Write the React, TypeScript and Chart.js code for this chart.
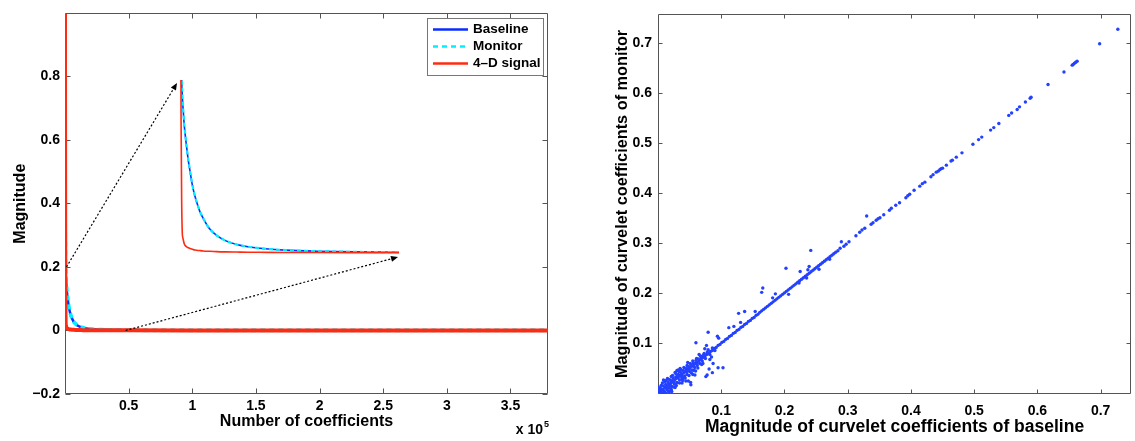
import React, { useEffect, useRef } from 'react';
import { Chart, registerables } from 'chart.js';

Chart.register(...registerables);

const FONT = '"Liberation Sans", Arial, Helvetica, sans-serif';

// ---------------- Left panel: sorted curvelet coefficient magnitudes ----------------
const coefficientIndex = [0, 60, 150, 250, 380, 525, 600, 760, 950, 1140, 1520, 1900, 2280, 2650, 3050, 3400, 3800, 4500, 5300, 6700, 8350, 10500, 12950, 15500, 18250, 24000, 31150, 40000, 50000, 100000, 200000, 300000, 379500];
const baselineMagnitude = [0.95, 0.5, 0.32, 0.25, 0.2, 0.182, 0.1745, 0.163, 0.149, 0.139, 0.122, 0.1067, 0.095, 0.083, 0.073, 0.0658, 0.059, 0.0484, 0.040, 0.0282, 0.0203, 0.014, 0.0099, 0.00727, 0.0055, 0.00337, 0.0021, 0.0013, 0.00086, 0.0003, 0.0001, 0.00003, 0];
const monitorMagnitude = [0.96, 0.51, 0.325, 0.252, 0.202, 0.183, 0.175, 0.164, 0.15, 0.14, 0.123, 0.1075, 0.0955, 0.0835, 0.0735, 0.066, 0.0592, 0.0486, 0.0402, 0.0283, 0.0204, 0.0141, 0.0099, 0.0073, 0.0055, 0.0034, 0.0021, 0.0013, 0.00087, 0.0003, 0.0001, 0.00003, 0];
const signal4DMagnitude = [0.998, 0.6, 0.3, 0.15, 0.06, 0.0225, 0.019, 0.015, 0.011, 0.0089, 0.0072, 0.006, 0.0052, 0.0045, 0.0039, 0.0035, 0.0032, 0.0028, 0.0024, 0.002, 0.0016, 0.0013, 0.0011, 0.0009, 0.0008, 0.0006, 0.0005, 0.0004, 0.0003, 0.0001, 0.00005, 0.00002, 0];
const seriesLabels = ['Baseline', 'Monitor', '4\u2013D signal'];
const seriesColors = ['#0a2cff', '#00f0ff', '#ff2a12'];

const leftXTicks = [50000, 100000, 150000, 200000, 250000, 300000, 350000];
const leftXTickLabels = ['0.5', '1', '1.5', '2', '2.5', '3', '3.5'];
const leftYTicks = [-0.2, 0, 0.2, 0.4, 0.6, 0.8];
const leftYTickLabels = ['\u22120.2', '0', '0.2', '0.4', '0.6', '0.8'];
const leftXRange = [0, 379500];
const leftYRange = [-0.2, 0.998];
const zoomWindowX = [0, 50000];
const zoomWindowY = [0, 0.2];

// ---------------- Right panel: baseline vs monitor magnitudes ----------------
const rightTicks = [0.1, 0.2, 0.3, 0.4, 0.5, 0.6, 0.7];
const rightTickLabels = ['0.1', '0.2', '0.3', '0.4', '0.5', '0.6', '0.7'];
const rightXRange = [0, 0.748];
const rightYRange = [0, 0.757];

// [baseline, monitor]
const diagonalPoints = [
  [0.002, 0.003], [0.005, 0.006], [0.008, 0.008], [0.011, 0.012], [0.014, 0.014], [0.017, 0.018], [0.020, 0.020], [0.023, 0.024],
  [0.026, 0.026], [0.029, 0.030], [0.032, 0.032], [0.035, 0.036], [0.038, 0.038], [0.041, 0.042], [0.044, 0.044], [0.047, 0.048],
  [0.050, 0.050], [0.053, 0.054], [0.056, 0.056], [0.059, 0.060], [0.062, 0.062], [0.065, 0.066], [0.068, 0.068], [0.071, 0.072],
  [0.074, 0.074], [0.077, 0.078], [0.080, 0.080], [0.083, 0.084], [0.086, 0.086], [0.089, 0.090], [0.092, 0.092], [0.095, 0.096],
  [0.098, 0.098], [0.101, 0.102], [0.104, 0.104], [0.107, 0.108], [0.110, 0.110], [0.113, 0.114], [0.116, 0.116], [0.119, 0.120],
  [0.122, 0.122], [0.125, 0.126], [0.128, 0.128], [0.131, 0.132], [0.134, 0.134], [0.137, 0.138], [0.140, 0.140], [0.143, 0.144],
  [0.146, 0.146], [0.149, 0.150], [0.152, 0.152], [0.155, 0.156], [0.158, 0.158], [0.161, 0.162], [0.164, 0.165], [0.167, 0.168],
  [0.170, 0.171], [0.173, 0.174], [0.176, 0.177], [0.179, 0.180], [0.182, 0.183], [0.185, 0.186], [0.188, 0.189], [0.191, 0.192],
  [0.194, 0.195], [0.197, 0.198], [0.200, 0.201], [0.203, 0.204], [0.206, 0.207], [0.209, 0.210], [0.212, 0.213], [0.215, 0.216],
  [0.218, 0.219], [0.221, 0.222], [0.224, 0.225], [0.227, 0.228], [0.230, 0.231], [0.233, 0.234], [0.236, 0.237], [0.239, 0.240],
  [0.242, 0.243], [0.245, 0.246], [0.248, 0.249], [0.251, 0.252], [0.254, 0.255], [0.257, 0.258], [0.260, 0.261], [0.263, 0.264],
  [0.266, 0.267], [0.269, 0.270], [0.272, 0.273], [0.275, 0.276], [0.278, 0.279], [0.281, 0.282],
];
const bandPoints = [
  [0.004, 0.010], [0.006, 0.001], [0.008, 0.015], [0.010, 0.004], [0.012, 0.018], [0.014, 0.008], [0.016, 0.022], [0.018, 0.011],
  [0.020, 0.026], [0.022, 0.014], [0.024, 0.030], [0.026, 0.019], [0.028, 0.033], [0.030, 0.022], [0.032, 0.038], [0.034, 0.027],
  [0.036, 0.042], [0.038, 0.030], [0.040, 0.046], [0.042, 0.035], [0.044, 0.050], [0.046, 0.038], [0.048, 0.054], [0.050, 0.044],
  [0.052, 0.057], [0.054, 0.047], [0.056, 0.061], [0.058, 0.052], [0.060, 0.066], [0.062, 0.056], [0.064, 0.069], [0.066, 0.060],
  [0.068, 0.074], [0.070, 0.065], [0.072, 0.077], [0.075, 0.070], [0.078, 0.083], [0.082, 0.078], [0.086, 0.091], [0.090, 0.086],
  [0.003, 0.006], [0.009, 0.002], [0.015, 0.012], [0.019, 0.016], [0.025, 0.021], [0.031, 0.035], [0.037, 0.034], [0.045, 0.043],
  [0.011, 0.024], [0.021, 0.034], [0.017, 0.003], [0.027, 0.012],
  [0.005, 0.016], [0.007, 0.000], [0.012, 0.001], [0.013, 0.026], [0.016, 0.005], [0.018, 0.028], [0.021, 0.008], [0.023, 0.036],
  [0.025, 0.013], [0.028, 0.040], [0.029, 0.016], [0.033, 0.044], [0.034, 0.021], [0.036, 0.048], [0.039, 0.026], [0.041, 0.052],
  [0.043, 0.031], [0.046, 0.056], [0.049, 0.036], [0.051, 0.060], [0.053, 0.041], [0.055, 0.065], [0.057, 0.046], [0.061, 0.070],
  [0.063, 0.051], [0.067, 0.075], [0.069, 0.058], [0.073, 0.080], [0.001, 0.012], [0.001, 0.005], [0.003, 0.000], [0.007, 0.021],
  [0.015, 0.030], [0.020, 0.005], [0.030, 0.046], [0.038, 0.021], [0.047, 0.062], [0.055, 0.038], [0.065, 0.078], [0.071, 0.060],
];
const outlierPoints = [
  [0.0218, 0.004], [0.032, 0.047], [0.027, 0.042], [0.035, 0.050], [0.040, 0.0305], [0.048, 0.025], [0.0087, 0.027], [0.0516, 0.0219],
  [0.052, 0.0173], [0.044, 0.025], [0.0757, 0.0337], [0.0777, 0.037], [0.0584, 0.037], [0.0595, 0.045], [0.0808, 0.0488], [0.086, 0.0416],
  [0.0871, 0.060], [0.095, 0.0514], [0.1028, 0.0514], [0.0846, 0.073], [0.082, 0.068], [0.0767, 0.096], [0.074, 0.0895], [0.0793, 0.0876],
  [0.060, 0.1014], [0.094, 0.1144], [0.096, 0.1105], [0.0793, 0.1222], [0.1306, 0.142], [0.120, 0.134], [0.112, 0.1315], [0.137, 0.1636],
  [0.1275, 0.160], [0.1537, 0.1636], [0.1657, 0.2108], [0.164, 0.202], [0.1856, 0.199], [0.1813, 0.191], [0.2065, 0.198], [0.2024, 0.250],
  [0.2248, 0.2437], [0.239, 0.2535], [0.237, 0.247], [0.2546, 0.248], [0.235, 0.2305], [0.223, 0.2207], [0.2714, 0.268], [0.2416, 0.2857],
  [0.290, 0.303], [0.330, 0.3545],
];
const sparsePoints = [
  [0.2845, 0.285], [0.288, 0.290], [0.294, 0.294], [0.2975, 0.298], [0.302, 0.303], [0.313, 0.315], [0.319, 0.322], [0.3226, 0.3264],
  [0.327, 0.330], [0.337, 0.338], [0.340, 0.341], [0.345, 0.346], [0.348, 0.349], [0.351, 0.351], [0.357, 0.357], [0.366, 0.366],
  [0.369, 0.370], [0.376, 0.376], [0.382, 0.381], [0.392, 0.391], [0.395, 0.395], [0.398, 0.398], [0.405, 0.406], [0.414, 0.414],
  [0.418, 0.419], [0.422, 0.422], [0.4316, 0.4327], [0.435, 0.437], [0.440, 0.442], [0.443, 0.444], [0.4457, 0.447], [0.4477, 0.449],
  [0.450, 0.450], [0.456, 0.456], [0.4634, 0.4642], [0.4655, 0.466], [0.4717, 0.472], [0.4807, 0.4805], [0.498, 0.4976], [0.507, 0.507],
  [0.512, 0.512], [0.526, 0.526], [0.531, 0.531], [0.539, 0.539], [0.5547, 0.5553], [0.5592, 0.560], [0.568, 0.567], [0.5717, 0.5724],
  [0.581, 0.582], [0.5885, 0.5896], [0.590, 0.5915], [0.6168, 0.6171], [0.642, 0.642], [0.655, 0.6557], [0.6565, 0.657], [0.6586, 0.6596],
  [0.6607, 0.6616], [0.6628, 0.6636], [0.6984, 0.6984], [0.7272, 0.7274],
];

// ---------------- layout ----------------
const LEFT_W = 565;
const RIGHT_W = 570;
const H = 441;
const INSET = { left: 180, top: 80, width: 219, height: 173 };
const INSET_PAD = 4;

const tickFont = { family: FONT, size: 14, weight: 'bold' as const };

function framePlugin(tickLen: number) {
  return {
    id: 'matlabFrame',
    beforeDatasetsDraw(chart: any) {
      const { ctx, chartArea: a, scales } = chart;
      const L = Math.round(a.left) + 0.5, R = Math.round(a.right) - 0.5;
      const T = Math.round(a.top) + 0.5, B = Math.round(a.bottom) - 0.5;
      ctx.save();
      ctx.strokeStyle = '#555';
      ctx.lineWidth = 1;
      ctx.beginPath();
      ctx.rect(L, T, R - L, B - T);
      for (const t of scales.x.ticks) {
        const px = Math.round(scales.x.getPixelForValue(t.value)) + 0.5;
        ctx.moveTo(px, B); ctx.lineTo(px, B - tickLen);
        ctx.moveTo(px, T); ctx.lineTo(px, T + tickLen);
      }
      for (const t of scales.y.ticks) {
        const py = Math.round(scales.y.getPixelForValue(t.value)) + 0.5;
        ctx.moveTo(L, py); ctx.lineTo(L + tickLen, py);
        ctx.moveTo(R, py); ctx.lineTo(R - tickLen, py);
      }
      ctx.stroke();
      ctx.restore();
    },
  };
}

function drawArrow(ctx: CanvasRenderingContext2D, x1: number, y1: number, x2: number, y2: number) {
  const ang = Math.atan2(y2 - y1, x2 - x1);
  const head = 7;
  const bx = x2 - head * Math.cos(ang);
  const by = y2 - head * Math.sin(ang);
  ctx.save();
  ctx.strokeStyle = '#000';
  ctx.lineWidth = 1.2;
  ctx.setLineDash([2, 2]);
  ctx.beginPath();
  ctx.moveTo(x1, y1);
  ctx.lineTo(bx, by);
  ctx.stroke();
  ctx.setLineDash([]);
  ctx.fillStyle = '#000';
  ctx.beginPath();
  ctx.moveTo(x2, y2);
  ctx.lineTo(bx + 3 * Math.sin(ang), by - 3 * Math.cos(ang));
  ctx.lineTo(bx - 3 * Math.sin(ang), by + 3 * Math.cos(ang));
  ctx.closePath();
  ctx.fill();
  ctx.restore();
}

const leftDecorPlugin = {
  id: 'leftDecor',
  afterDraw(chart: any) {
    const { ctx, chartArea: a, scales } = chart;
    drawArrow(
      ctx,
      scales.x.getPixelForValue(zoomWindowX[0]) + 1.5,
      scales.y.getPixelForValue(zoomWindowY[1]),
      INSET.left - 3,
      INSET.top + 3
    );
    drawArrow(
      ctx,
      scales.x.getPixelForValue(zoomWindowX[1]) - 3,
      scales.y.getPixelForValue(zoomWindowY[0]),
      INSET.left + INSET.width - 1,
      INSET.top + INSET.height + 4
    );
    // legend
    const w = 116, h = 57;
    const x0 = Math.round(a.right - 5 - w), y0 = Math.round(a.top + 5);
    ctx.save();
    ctx.fillStyle = '#fff';
    ctx.fillRect(x0, y0, w, h);
    ctx.strokeStyle = '#777';
    ctx.lineWidth = 1;
    ctx.strokeRect(x0 + 0.5, y0 + 0.5, w, h);
    const rows = [11.5, 28.5, 45.5];
    chart.data.datasets.forEach((ds: any, i: number) => {
      const y = y0 + rows[i];
      ctx.beginPath();
      ctx.setLineDash(ds.borderDash || []);
      ctx.strokeStyle = ds.borderColor;
      ctx.lineWidth = 2.5;
      ctx.moveTo(x0 + 6, y);
      ctx.lineTo(x0 + 41, y);
      ctx.stroke();
      ctx.setLineDash([]);
      ctx.fillStyle = '#000';
      ctx.font = `bold 13.5px ${FONT}`;
      ctx.textBaseline = 'middle';
      ctx.textAlign = 'left';
      ctx.fillText(ds.label, x0 + 46, y);
    });
    // x 10^5 exponent
    ctx.fillStyle = '#000';
    ctx.textBaseline = 'alphabetic';
    ctx.textAlign = 'right';
    ctx.font = `bold 14px ${FONT}`;
    ctx.fillText('x 10', a.right - 5, 434);
    ctx.textAlign = 'left';
    ctx.font = `bold 9px ${FONT}`;
    ctx.fillText('5', a.right - 4, 427);
    ctx.restore();
  },
};

const toXY = (ys: number[]) => coefficientIndex.map((x, i) => ({ x, y: ys[i] }));

function curveDatasets(thin: boolean) {
  const clip = thin ? { left: 1, top: 0, right: 0, bottom: 3 } : undefined;
  return [
    {
      label: seriesLabels[0], data: toXY(baselineMagnitude), borderColor: seriesColors[0],
      borderWidth: thin ? 1.6 : 2.5, order: 3, pointRadius: 0, cubicInterpolationMode: 'monotone' as const, clip,
    },
    {
      label: seriesLabels[1], data: toXY(monitorMagnitude), borderColor: seriesColors[1],
      borderWidth: thin ? 2.2 : 3.8, borderDash: thin ? [4, 3] : [5, 4], order: 2, pointRadius: 0,
      cubicInterpolationMode: 'monotone' as const, clip,
    },
    {
      label: seriesLabels[2], data: toXY(signal4DMagnitude), borderColor: seriesColors[2],
      borderWidth: thin ? 1.6 : 4, order: 1, pointRadius: 0, cubicInterpolationMode: 'monotone' as const, clip,
    },
  ];
}

const common = {
  responsive: false,
  animation: false as const,
  devicePixelRatio: 1,
  events: [] as any[],
  plugins: { legend: { display: false }, tooltip: { enabled: false } },
};

export default function App() {
  const leftRef = useRef<HTMLCanvasElement>(null);
  const insetRef = useRef<HTMLCanvasElement>(null);
  const rightRef = useRef<HTMLCanvasElement>(null);

  useEffect(() => {
    const charts: Chart[] = [];

    charts.push(
      new Chart(leftRef.current as HTMLCanvasElement, {
        type: 'line',
        data: { datasets: curveDatasets(false) as any },
        options: {
          ...common,
          layout: { padding: { left: 0, top: 12, right: 17, bottom: 0 } },
          scales: {
            x: {
              type: 'linear', min: leftXRange[0], max: leftXRange[1],
              afterBuildTicks: (s: any) => { s.ticks = leftXTicks.map((v) => ({ value: v })); },
              afterFit: (s: any) => { s.height = 47; },
              ticks: { callback: (_v: any, i: number) => leftXTickLabels[i], font: tickFont, color: '#000', padding: 4, maxRotation: 0, autoSkip: false },
              grid: { display: false, drawTicks: false },
              border: { display: false },
              title: { display: true, text: 'Number of coefficients', color: '#000', font: { family: FONT, size: 16, weight: 'bold' }, padding: { top: 0, bottom: 10 } },
            },
            y: {
              type: 'linear', min: leftYRange[0], max: leftYRange[1],
              afterBuildTicks: (s: any) => { s.ticks = leftYTicks.map((v) => ({ value: v })); },
              afterFit: (s: any) => { s.width = 65; },
              ticks: { callback: (_v: any, i: number) => leftYTickLabels[i], font: tickFont, color: '#000', padding: 5, autoSkip: false },
              grid: { display: false, drawTicks: false },
              border: { display: false },
              title: { display: true, text: 'Magnitude', color: '#000', font: { family: FONT, size: 16, weight: 'bold' }, padding: { top: 11, bottom: 0 } },
            },
          },
        } as any,
        plugins: [framePlugin(5), leftDecorPlugin],
      })
    );

    charts.push(
      new Chart(insetRef.current as HTMLCanvasElement, {
        type: 'line',
        data: { datasets: curveDatasets(true) as any },
        options: {
          ...common,
          layout: { padding: INSET_PAD },
          scales: {
            x: { type: 'linear', min: zoomWindowX[0], max: zoomWindowX[1], display: false },
            y: { type: 'linear', min: zoomWindowY[0], max: zoomWindowY[1], display: false },
          },
        } as any,
      })
    );

    const allPoints = [...diagonalPoints, ...bandPoints, ...outlierPoints, ...sparsePoints].map(([x, y]) => ({ x, y }));
    charts.push(
      new Chart(rightRef.current as HTMLCanvasElement, {
        type: 'scatter',
        data: {
          datasets: [
            {
              label: 'Baseline vs monitor',
              data: allPoints,
              pointRadius: 1.7,
              pointBorderWidth: 0,
              pointBackgroundColor: 'rgb(35,65,255)',
              pointBorderColor: 'rgb(35,65,255)',
            },
          ],
        },
        options: {
          ...common,
          layout: { padding: { left: 0, top: 9, right: 1, bottom: 0 } },
          scales: {
            x: {
              type: 'linear', min: rightXRange[0], max: rightXRange[1],
              afterBuildTicks: (s: any) => { s.ticks = rightTicks.map((v) => ({ value: v })); },
              afterFit: (s: any) => { s.height = 47.5; },
              ticks: { callback: (_v: any, i: number) => rightTickLabels[i], font: tickFont, color: '#000', padding: 9, maxRotation: 0, autoSkip: false },
              grid: { display: false, drawTicks: false },
              border: { display: false },
              title: { display: true, text: 'Magnitude of curvelet coefficients of baseline', color: '#000', font: { family: FONT, size: 17.5, weight: 'bold' }, padding: { top: 0, bottom: 3 } },
            },
            y: {
              type: 'linear', min: rightYRange[0], max: rightYRange[1],
              afterBuildTicks: (s: any) => { s.ticks = rightTicks.map((v) => ({ value: v })); },
              afterFit: (s: any) => { s.width = 93; },
              ticks: { callback: (_v: any, i: number) => rightTickLabels[i], font: tickFont, color: '#000', padding: 6, autoSkip: false },
              grid: { display: false, drawTicks: false },
              border: { display: false },
              title: { display: true, text: 'Magnitude of curvelet coefficients of monitor', color: '#000', font: { family: FONT, size: 16.3, weight: 'bold' }, padding: { top: 48, bottom: 0 } },
            },
          },
        } as any,
        plugins: [framePlugin(4)],
      })
    );

    return () => charts.forEach((c) => c.destroy());
  }, []);

  return (
    <div style={{ position: 'absolute', left: 0, top: 0, width: LEFT_W + RIGHT_W, height: H, background: '#fff', overflow: 'hidden' }}>
      <canvas ref={leftRef} width={LEFT_W} height={H} style={{ position: 'absolute', left: 0, top: 0 }} />
      <canvas ref={rightRef} width={RIGHT_W} height={H} style={{ position: 'absolute', left: LEFT_W, top: 0 }} />
      <canvas
        ref={insetRef}
        width={INSET.width + 2 * INSET_PAD}
        height={INSET.height + 2 * INSET_PAD}
        style={{ position: 'absolute', left: INSET.left - INSET_PAD, top: INSET.top - INSET_PAD }}
      />
    </div>
  );
}
